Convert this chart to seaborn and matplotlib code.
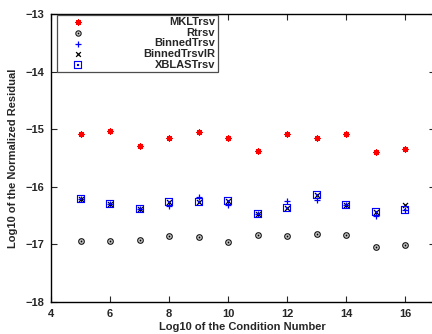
import numpy as np
import pandas as pd
import matplotlib
matplotlib.use("Agg")
import matplotlib.pyplot as plt
import seaborn as sns

# === Data ===
cond = [5, 6, 7, 8, 9, 10, 11, 12, 13, 14, 15, 16]
mkl_trsv = [-15.08, -15.03, -15.30, -15.16, -15.05, -15.16, -15.37, -15.09, -15.16, -15.09, -15.40, -15.34]
r_trsv = [-16.94, -16.94, -16.92, -16.85, -16.87, -16.96, -16.84, -16.86, -16.82, -16.84, -17.05, -17.01]
binned_trsv = [-16.22, -16.29, -16.38, -16.33, -16.17, -16.32, -16.47, -16.25, -16.23, -16.31, -16.51, -16.40]
binned_trsv_ir = [-16.22, -16.29, -16.38, -16.27, -16.26, -16.25, -16.47, -16.36, -16.15, -16.31, -16.44, -16.32]
xblas_trsv = [-16.22, -16.29, -16.38, -16.27, -16.26, -16.25, -16.47, -16.36, -16.15, -16.31, -16.44, -16.40]
x_ticks = [4, 6, 8, 10, 12, 14, 16]
y_ticks = [-18, -17, -16, -15, -14, -13]

sns.set_style("ticks")
plt.rcParams["font.family"] = ["Liberation Sans", "DejaVu Sans"]
plt.rcParams["font.weight"] = "bold"
plt.rcParams["font.size"] = 8

fig = plt.figure(figsize=(4.32, 3.34), dpi=100)
ax = fig.add_axes([51 / 432, 1 - 302 / 334, 383.5 / 432, 288 / 334])

series = [
    ("MKLTrsv", mkl_trsv, dict(marker=(8, 2, 0), color="red", s=16, linewidth=0.9)),
    ("Rtrsv", r_trsv, dict(marker=r"$\odot$", color="black", s=22, linewidth=0.1)),
    ("BinnedTrsv", binned_trsv, dict(marker="+", color="blue", s=20, linewidth=0.9)),
    ("BinnedTrsvIR", binned_trsv_ir, dict(marker="x", color="black", s=13, linewidth=0.9)),
    ("XBLASTrsv", xblas_trsv, dict(marker=r"$\boxdot$", color="blue", s=30, linewidth=0.1)),
]
for name, vals, style in series:
    df = pd.DataFrame({"cond": cond, "resid": vals})
    sns.scatterplot(data=df, x="cond", y="resid", ax=ax, label=name,
                    edgecolor=style["color"], **style)

ax.set_xlim(4, 17)
ax.set_ylim(-18, -13)
ax.set_xticks(x_ticks)
ax.set_yticks(y_ticks)
ax.tick_params(direction="in", top=True, right=True, length=4, width=0.8, pad=5, labelsize=8)
for sp in ax.spines.values():
    sp.set_linewidth(1.0)
    sp.set_color("black")
ax.set_xlabel("Log10 of the Condition Number", fontsize=8, fontweight="bold", labelpad=2)
ax.set_ylabel("Log10 of the Normalized Residual", fontsize=8, fontweight="bold", labelpad=5)

leg = ax.legend(loc="upper left", bbox_to_anchor=(0.016, 0.996), borderaxespad=0,
                fancybox=False, edgecolor="0.3", framealpha=1, fontsize=8,
                handlelength=3.4, handletextpad=0.5, borderpad=0.2, labelspacing=0.05,
                scatterpoints=1, markerscale=0.95)
leg.get_frame().set_linewidth(0.9)
# right-align labels inside a fixed-width row, marker stays on the left
rows = leg.get_children()[0].get_children()[1].get_children()[0].get_children()
for row in rows:
    row.mode = "expand"
    row.width = 156

fig.savefig("out.png", dpi=100)
